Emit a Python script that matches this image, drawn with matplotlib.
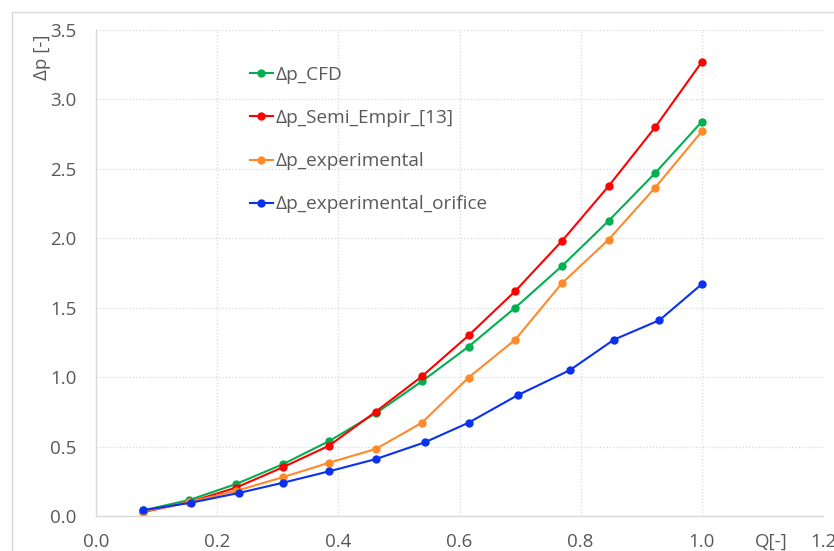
import matplotlib
matplotlib.use("Agg")
import matplotlib.pyplot as plt
from matplotlib.patches import Rectangle

plt.rcParams['font.family'] = ['Open Sans', 'DejaVu Sans']

# flow rate points (normalised)
q = [0.077, 0.154, 0.231, 0.308, 0.385, 0.462, 0.538, 0.615, 0.692, 0.769, 0.846, 0.923, 1.0]
q_orifice = [0.077, 0.157, 0.236, 0.309, 0.385, 0.462, 0.543, 0.615, 0.696, 0.782, 0.855, 0.930, 1.0]

dp_cfd = [0.04, 0.115, 0.23, 0.372, 0.54, 0.74, 0.97, 1.22, 1.50, 1.80, 2.125, 2.47, 2.84]
dp_semi = [0.027, 0.10, 0.204, 0.35, 0.507, 0.752, 1.006, 1.30, 1.62, 1.98, 2.375, 2.80, 3.27]
dp_exp = [0.03, 0.10, 0.18, 0.279, 0.384, 0.483, 0.672, 0.997, 1.27, 1.676, 1.99, 2.365, 2.77]
dp_orifice = [0.041, 0.096, 0.166, 0.24, 0.322, 0.41, 0.531, 0.672, 0.87, 1.05, 1.27, 1.41, 1.67]

labels = ['Δp_CFD', 'Δp_Semi_Empir_[13]', 'Δp_experimental', 'Δp_experimental_orifice']
colors = ['#00b050', '#ff0000', '#ff8a2b', '#0a30f0']

xticks = [0.0, 0.2, 0.4, 0.6, 0.8, 1.0, 1.2]
yticks = [0.0, 0.5, 1.0, 1.5, 2.0, 2.5, 3.0, 3.5]

fig = plt.figure(figsize=(8.34, 5.51), dpi=100)
ax = fig.add_axes([96 / 834, 35 / 551, 727 / 834, 486 / 551])

# outer chart border (excel style, cropped)
fig.patches.append(Rectangle((12 / 834, -0.1), 1.2, 1.1 - 12 / 551, transform=fig.transFigure,
                             fill=False, edgecolor='#d9d9d9', linewidth=1.0))

series = [(q, dp_cfd), (q, dp_semi), (q, dp_exp), (q_orifice, dp_orifice)]
for (xs, ys), lab, c in zip(series, labels, colors):
    ax.plot(xs, ys, color=c, marker='o', markersize=5, linewidth=1.5, label=lab)

ax.set_xlim(0, 1.2)
ax.set_ylim(0, 3.5)
ax.set_xticks(xticks)
ax.set_yticks(yticks)
ax.set_xticklabels(['%.1f' % t for t in xticks])
ax.set_yticklabels(['%.1f' % t for t in yticks])
ax.tick_params(length=0, labelsize=13.5, labelcolor='#595959')
ax.tick_params(axis='x', pad=12)
ax.tick_params(axis='y', pad=14)

ax.grid(True, color='#d9d9d9', linestyle=':', linewidth=0.9)
ax.set_axisbelow(True)
for s in ['top', 'right']:
    ax.spines[s].set_visible(False)
for s in ['left', 'bottom']:
    ax.spines[s].set_color('#d9d9d9')
    ax.spines[s].set_linewidth(1.0)

fig.text(42 / 834, 1 - 57 / 551, 'Δp [-]', rotation=90, ha='center', va='center',
         fontsize=13.5, color='#595959')
fig.text(771 / 834, 1 - 542 / 551, 'Q[-]', ha='center', va='center',
         fontsize=13.5, color='#595959')

leg = ax.legend(loc='upper left', bbox_to_anchor=((250 - 96) / 727, (516 - 66) / 486),
                frameon=False, fontsize=13.7, handlelength=1.2, handletextpad=0.15,
                labelspacing=1.32, borderaxespad=0, borderpad=0)
for t in leg.get_texts():
    t.set_color('#595959')

fig.savefig('out.png', dpi=100)
